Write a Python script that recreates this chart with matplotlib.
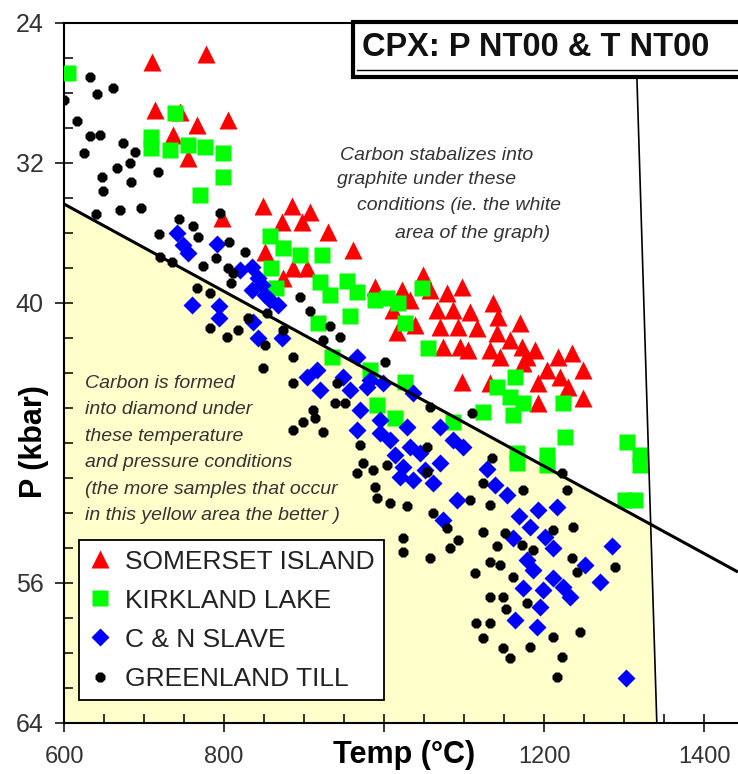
import numpy as np
import matplotlib
matplotlib.use("Agg")
import matplotlib.pyplot as plt
from matplotlib.patches import Polygon, Rectangle
from matplotlib.lines import Line2D

plt.rcParams['font.family'] = ['Liberation Sans', 'DejaVu Sans']

# --- data (temperature in deg C, pressure in kbar) ---
somerset_T = [710, 777.5, 713.8, 745, 766, 805, 736, 755, 797.5, 849,
              885, 907.5, 872.5, 897.5, 930, 961, 851, 886, 904, 874,
              989, 1022.5, 1049, 1011, 1032.5, 1057.5, 1079, 1097.5, 1066, 1086,
              1070, 1092.5, 1016, 1074, 1095, 1097.5, 1107.5, 1136, 1142.5, 1170,
              1116, 1141, 1157.5, 1189, 1172.5, 1105, 1132.5, 1145, 1179, 1217.5,
              1235, 1249, 1204, 1192.5, 1220, 1230, 1132.5, 1192.5, 1249, 1174,
              1039]
somerset_P = [26.24, 25.79, 28.99, 29.10, 29.84, 29.56, 30.41, 31.73, 35.16, 34.47,
              34.47, 34.81, 35.39, 35.39, 35.96, 36.99, 37.10, 38.01, 38.01, 38.59,
              39.10, 39.27, 38.41, 40.41, 39.84, 39.27, 39.44, 39.10, 40.41, 40.41,
              41.39, 41.39, 41.67, 42.53, 42.53, 44.53, 40.53, 40.01, 40.81, 41.16,
              41.44, 41.73, 42.13, 42.70, 42.53, 42.70, 42.70, 43.10, 43.10, 43.10,
              42.87, 43.84, 43.84, 44.59, 44.24, 44.81, 44.59, 45.73, 45.44, 43.44,
              41.27]

kirkland_T = [605, 738.8, 708.8, 708.8, 732.5, 755, 776.3, 798.8, 798.8, 770,
              857.5, 873.8, 895, 922.5, 858.8, 865, 920, 932.5, 953.8, 966.3,
              917.5, 957.5, 988.8, 1003.8, 1017.5, 1026.3, 1047.5, 1055, 935, 1026.3,
              982.5, 991.3, 1013.8, 1086.3, 1123.8, 1141.3, 1163.8, 1161.3, 1166.3, 1166.3,
              1203.8, 1203.8, 1223.8, 1226.3, 1303.8, 1320, 1320, 1301.3, 1313.8, 1157.5,
              1173.8]
kirkland_P = [26.87, 29.16, 30.53, 31.16, 31.27, 30.99, 31.10, 31.44, 32.81, 33.84,
              36.19, 36.87, 37.27, 37.27, 38.01, 39.16, 38.81, 39.56, 38.76, 39.39,
              41.16, 40.76, 39.84, 39.73, 40.01, 41.16, 39.16, 42.59, 43.10, 44.53,
              43.84, 45.84, 46.59, 46.81, 46.24, 44.81, 44.24, 46.41, 48.59, 49.16,
              48.70, 49.27, 45.73, 47.67, 47.96, 48.70, 49.27, 51.27, 51.27, 45.39,
              45.73]

slave_T = [741.3, 748.8, 755, 791.3, 820, 835, 842.5, 835, 847.5, 857.5,
           867.5, 760, 793.8, 793.8, 836.3, 842.5, 872.5, 903.8, 920, 948.8,
           957.5, 966.3, 966.3, 978.8, 970, 995, 995, 1028.8, 1032.5, 1023.8,
           1045, 1020, 1036.3, 1070, 1086.3, 1098.8, 1070, 1061.3, 1091.3, 1073.8,
           1128.8, 1138.8, 1153.8, 1168.8, 1192.5, 1216.3, 1161.3, 1182.5, 1201.3, 1211.3,
           1178.8, 1186.3, 1173.8, 1198.8, 1223.8, 1232.5, 1195, 1163.8, 1191.3, 1251.3,
           1270, 1285, 1302.5, 1036.3, 916.3, 982.5, 998.8, 1211.3, 851.3, 1007.5,
           1013.8, 1051.3]
slave_P = [36.01, 36.70, 37.16, 36.64, 38.13, 37.96, 38.59, 39.27, 38.99, 39.84,
           40.13, 40.13, 40.19, 40.87, 41.10, 42.01, 42.01, 44.24, 44.99, 44.24,
           44.99, 43.10, 47.27, 44.81, 46.13, 46.70, 47.44, 47.10, 48.24, 49.39,
           48.59, 49.96, 50.13, 47.10, 47.84, 48.24, 49.16, 50.30, 51.27, 52.41,
           49.50, 50.41, 50.99, 52.19, 51.84, 51.67, 53.44, 52.81, 53.39, 54.01,
           54.70, 55.27, 56.30, 56.41, 56.24, 56.81, 57.39, 58.13, 58.53, 54.99,
           55.96, 53.90, 61.44, 45.16, 43.84, 44.41, 44.59, 55.73, 39.56, 47.84,
           48.70, 49.56]

greenland_T = [600, 632.5, 641.3, 661.3, 616.3, 645, 632.5, 673.8, 688.8, 625,
               666.3, 682.5, 717.5, 647.5, 683.8, 648.8, 670, 696.3, 640, 743.8,
               761.3, 718.8, 795, 806.3, 826.3, 720, 735, 773.8, 805, 790,
               766.3, 782.5, 808.8, 811.3, 830, 782.5, 803.8, 817.5, 851.3, 886.3,
               848.8, 873.8, 895, 907.5, 932.5, 945, 923.8, 886.3, 911.3, 886.3,
               923.8, 898.8, 938.8, 941.3, 951.3, 970, 973.8, 966.3, 986.3, 1003.8,
               988.8, 991.3, 1007.5, 1028.8, 1053.8, 1053.8, 1057.5, 1061.3, 1078.8, 1092.5,
               1082.5, 1057.5, 1107.5, 1123.8, 1132.5, 1135, 1110, 1123.8, 1173.8, 1151.3,
               1132.5, 1113.8, 1161.3, 1132.5, 1148.8, 1152.5, 1115, 1132.5, 1123.8, 1148.8,
               1157.5, 1182.5, 1211.3, 1186.3, 1211.3, 1023.8, 1023.8, 1222.5, 1228.8, 1236.3,
               1235, 1241.3, 1288.8, 1222.5, 1245, 1216.3, 1145, 1141.3, 1172.5, 1178.8,
               913.8, 1001.3, 767.5, 853.8]
greenland_P = [28.41, 27.10, 28.07, 27.73, 29.61, 30.41, 30.47, 30.87, 31.39, 31.44,
               32.30, 32.01, 32.53, 32.81, 33.10, 33.61, 34.70, 34.59, 34.93, 35.21,
               35.61, 36.07, 34.87, 36.53, 37.10, 37.39, 37.67, 37.90, 38.01, 37.44,
               39.16, 39.44, 38.87, 38.30, 40.87, 41.44, 41.96, 41.56, 42.41, 43.10,
               43.73, 41.56, 39.67, 40.47, 41.33, 41.96, 42.13, 44.59, 46.13, 47.27,
               47.39, 46.81, 45.73, 44.59, 45.73, 48.13, 49.16, 49.73, 49.56, 49.27,
               50.53, 51.16, 51.44, 51.61, 48.24, 49.67, 45.96, 52.01, 52.87, 53.56,
               54.01, 54.59, 51.27, 53.10, 51.56, 48.87, 46.30, 50.30, 50.70, 53.16,
               54.81, 55.44, 55.67, 56.81, 56.81, 57.50, 58.30, 58.30, 59.16, 59.73,
               60.30, 59.67, 59.10, 54.13, 52.99, 53.44, 54.24, 49.73, 50.70, 52.81,
               54.59, 55.39, 55.10, 60.24, 58.81, 61.39, 54.99, 53.90, 53.84, 57.16,
               46.59, 43.39, 36.24, 40.59]

# graphite / diamond boundary and the near-vertical limit line
gd_T = [600, 1442.5]
gd_P = [34.36, 55.39]
lim_T = [1314, 1341]
lim_P = [24, 64]

x_major = [600, 800, 1000, 1200, 1400]
x_labels = ['600', '800', '', '1200', '1400']
y_major = [24, 32, 40, 56, 64]
y_labels = ['24', '32', '40', '56', '64']

W, H = 738, 774

# marker styles for the four groups
styles = {
    'SOMERSET ISLAND': dict(marker='^', ms=12.5, color='#ff0000'),
    'KIRKLAND LAKE': dict(marker='s', ms=12, color='#00ff00'),
    'C & N SLAVE': dict(marker='D', ms=9, color='#0000ff'),
    'GREENLAND TILL': dict(marker='8', ms=8, color='black'),
}


def fpos(x, y):
    # figure fraction from pixel position (top-left origin)
    return x / W, 1 - y / H


fig = plt.figure(figsize=(W / 100, H / 100), dpi=100)
ax = fig.add_axes([64 / W, (H - 722.7) / H, 674 / W, 700 / H])

ax.set_xlim(600, 1442.5)
ax.set_ylim(64, 24)

# intersection of the two boundary lines
a1 = (gd_P[1] - gd_P[0]) / (gd_T[1] - gd_T[0])
b1 = (lim_T[1] - lim_T[0]) / (lim_P[1] - lim_P[0])
Pi = (gd_P[0] + a1 * (lim_T[0] - gd_T[0] - b1 * lim_P[0])) / (1 - a1 * b1)
Ti = lim_T[0] + b1 * (Pi - lim_P[0])

diamond_zone = Polygon([(gd_T[0], gd_P[0]), (Ti, Pi), (lim_T[1], lim_P[1]),
                        (gd_T[0], lim_P[1])], closed=True,
                       facecolor='#ffffcc', edgecolor='none', zorder=0)
ax.add_patch(diamond_zone)

series = [('SOMERSET ISLAND', somerset_T, somerset_P),
          ('KIRKLAND LAKE', kirkland_T, kirkland_P),
          ('C & N SLAVE', slave_T, slave_P),
          ('GREENLAND TILL', greenland_T, greenland_P)]
handles = []
for z, (name, t, p) in enumerate(series):
    ln, = ax.plot(t, p, linestyle='none', mec='none', zorder=2 + z,
                  label=name, **styles[name])
    handles.append(ln)

ax.plot(gd_T, gd_P, color='black', lw=2.2, zorder=6, solid_capstyle='butt')
ax.plot(lim_T, lim_P, color='black', lw=1.2, zorder=6)

# axes styling
for s in ['left', 'bottom', 'top']:
    ax.spines[s].set_linewidth(1.5)
ax.spines['right'].set_visible(False)

ax.set_xticks(x_major)
ax.set_xticklabels(x_labels)
ax.set_xticks(np.arange(600, 1450, 50), minor=True)
ax.set_yticks(y_major)
ax.set_yticklabels(y_labels)
ax.set_yticks(np.arange(24, 65, 2), minor=True)
ax.tick_params(which='major', direction='inout', length=13, width=1.1,
               labelsize=18, labelcolor='#333333')
ax.tick_params(axis='x', which='major', pad=10, labelsize=17)
ax.tick_params(axis='y', which='major', pad=8)
ax.tick_params(which='minor', direction='in', length=6.5, width=1.1)

ax.set_xlabel('Temp (°C)', fontsize=22, fontweight='bold')
ax.xaxis.set_label_coords((404 - 64) / 674, -(755 - 722.7) / 700)
ax.xaxis.label.set_va('center')
ax.set_ylabel('P (kbar)', fontsize=22, fontweight='bold')
ax.yaxis.set_label_coords((34 - 64) / 674, 1 - (442 - 22.7) / 700)
ax.yaxis.label.set_va('center')

# legend
leg = ax.legend(handles=handles, loc='lower left',
                bbox_to_anchor=((79 - 64) / 674, (722.7 - 700) / 700),
                borderaxespad=0, fontsize=19, frameon=True, fancybox=False,
                framealpha=1, edgecolor='black', borderpad=0.35,
                labelspacing=0.57, handlelength=0.9, handletextpad=0.49)
leg.get_frame().set_linewidth(1.3)
for t in leg.get_texts():
    t.set_color('#222222')
leg.set_zorder(10)

# title box
x0, y0 = fpos(353, 77)
x1, y1 = fpos(745, 22)
fig.patches.append(Rectangle((x0, y0), x1 - x0, y1 - y0, transform=fig.transFigure,
                             facecolor='white', edgecolor='black', lw=3, zorder=10))
fig.lines.append(Line2D([fpos(357, 0)[0], 1], [fpos(0, 70)[1]] * 2,
                        transform=fig.transFigure, color='black', lw=1, zorder=11))
tx, ty = fpos(536, 47)
fig.text(tx, ty, 'CPX: P NT00 & T NT00', ha='center', va='center',
         fontsize=23.5, fontweight='bold', color='#111111', zorder=12)

# annotations
graphite_lines = [('Carbon stabalizes into', 340, 155),
                  ('graphite under these', 337, 180),
                  ('conditions (ie. the white', 357, 206),
                  ('area of the graph)', 395, 233)]
for s, x, y in graphite_lines:
    fx, fy = fpos(x, y)
    fig.text(fx, fy, s, ha='left', va='center', fontsize=14, style='italic',
             color='#333333', zorder=12)

diamond_lines = ['Carbon is formed', 'into diamond under', 'these temperature',
                 'and pressure conditions', '(the more samples that occur',
                 'in this yellow area the better )']
for i, s in enumerate(diamond_lines):
    fx, fy = fpos(85, 383 + i * 26.6)
    fig.text(fx, fy, s, ha='left', va='center', fontsize=14, style='italic',
             color='#333333', zorder=12)

fig.savefig('out.png', dpi=100)
